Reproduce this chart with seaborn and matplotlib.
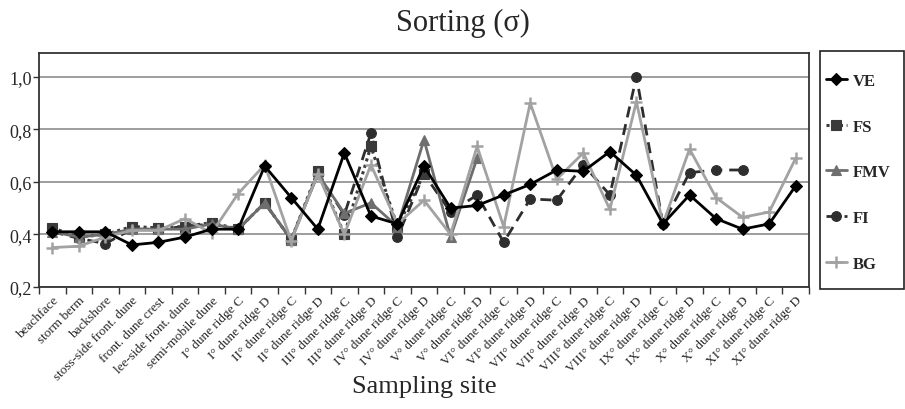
import numpy as np
import pandas as pd
import matplotlib
matplotlib.use("Agg")
import matplotlib.pyplot as plt
import matplotlib.patches as mpatches
import seaborn as sns
from matplotlib.ticker import FuncFormatter, FixedLocator

categories = ["beachface", "storm berm", "backshore", "stoss-side front. dune",
              "front. dune crest", "lee-side front. dune", "semi-mobile dune",
              "I° dune ridge C", "I° dune ridge D", "II° dune ridge C", "II° dune ridge D",
              "III° dune ridge C", "III° dune ridge D", "IV° dune ridge C", "IV° dune ridge D",
              "V° dune ridge C", "V° dune ridge D", "VI° dune ridge C", "VI° dune ridge D",
              "VII° dune ridge C", "VII° dune ridge D", "VIII° dune ridge C", "VIII° dune ridge D",
              "IX° dune ridge C", "IX° dune ridge D", "X° dune ridge C", "X° dune ridge D",
              "XI° dune ridge C", "XI° dune ridge D"]

nan = np.nan
VE = [0.41, 0.41, 0.41, 0.36, 0.37, 0.39, 0.42, 0.42, 0.66, 0.54, 0.42, 0.71, 0.47, 0.44,
      0.66, 0.50, 0.51, 0.55, 0.59, 0.645, 0.64, 0.715, 0.625, 0.44, 0.55, 0.46, 0.42, 0.44, 0.585]
FS = [0.425, 0.39, 0.40, 0.43, 0.425, 0.43, 0.445, 0.42, 0.52, 0.38, 0.64, 0.40, 0.735, 0.43,
      0.63] + [nan] * 14
FMV = [0.41, 0.39, 0.40, 0.42, 0.42, 0.42, 0.44, 0.42, 0.52, 0.38, 0.63, 0.48, 0.52, 0.43,
       0.76, 0.39, 0.69] + [nan] * 12
FI = [0.41, 0.385, 0.365, 0.42, 0.42, 0.43, 0.44, 0.42, 0.52, 0.38, 0.63, 0.475, 0.785, 0.39,
      0.63, 0.485, 0.55, 0.37, 0.535, 0.53, 0.665, 0.55, 1.0, 0.44, 0.635, 0.645, 0.645, nan, nan]
BG = [0.35, 0.355, 0.39, 0.415, 0.415, 0.46, 0.405, 0.555, 0.665, 0.375, 0.63, 0.40, 0.665,
      0.44, 0.53, 0.40, 0.735, 0.43, 0.90, 0.61, 0.71, 0.495, 0.905, 0.44, 0.725, 0.54, 0.465,
      0.485, 0.69]

series = {"VE": VE, "FS": FS, "FMV": FMV, "FI": FI, "BG": BG}
styles = {
    "VE": dict(color="#000000", marker="D", markersize=6.5, lw=2.0, dashes=None, mfc="#000000"),
    "FS": dict(color="#3a3a3a", marker="s", markersize=7, lw=2.2, dashes=(1, 1.2), mfc="#3a3a3a"),
    "FMV": dict(color="#6e6e6e", marker="^", markersize=7, lw=2.0, dashes=None, mfc="#6e6e6e"),
    "FI": dict(color="#2e2e2e", marker="o", markersize=7, lw=2.0, dashes=(4, 2.5), mfc="#2e2e2e"),
    "BG": dict(color="#a2a2a2", marker="+", markersize=8, lw=2.0, dashes=None, mfc="#a2a2a2"),
}

sns.set_theme(style="white")
plt.rcParams["font.family"] = ["Liberation Serif", "DejaVu Serif"]

fig = plt.figure(figsize=(9.05, 4.10), dpi=100)
ax = fig.add_axes([39 / 905, 1 - 288 / 410, (809 - 39) / 905, (288 - 54) / 410])

x = np.arange(len(categories))
order = ["FI", "FS", "FMV", "BG", "VE"]
handles = {}
for name in order:
    st = styles[name]
    df = pd.DataFrame({"x": x, "y": series[name]}).dropna()
    sns.lineplot(data=df, x="x", y="y", ax=ax, color=st["color"], lw=st["lw"],
                 marker=st["marker"], markersize=st["markersize"],
                 markerfacecolor=st["mfc"], markeredgecolor=st["mfc"],
                 markeredgewidth=1.8 if name == "BG" else 0.8, label=name,
                 zorder=3 if name != "VE" else 4, legend=False)
    line = ax.get_lines()[-1]
    if st["dashes"] is not None:
        line.set_dashes(st["dashes"])
    handles[name] = line

ax.set_xlim(-0.5, len(categories) - 0.5)
ax.set_ylim(0.2, 1.09)
ax.set_yticks([0.2, 0.4, 0.6, 0.8, 1.0])
ax.yaxis.set_major_formatter(FuncFormatter(lambda v, p: f"{v:.1f}".replace(".", ",")))
ax.yaxis.grid(True, color="#8c8c8c", lw=1.2)
ax.xaxis.grid(False)
ax.set_axisbelow(True)

ax.set_xticks(x)
ax.set_xticklabels(categories, rotation=45, ha="right", rotation_mode="anchor", fontsize=9.5)
ax.xaxis.set_minor_locator(FixedLocator(np.arange(-0.5, len(categories) + 0.5, 1.0)))
ax.tick_params(axis="x", which="major", length=0, pad=5)
ax.tick_params(axis="x", which="minor", length=5, width=1, color="#333333", direction="out",
               bottom=True)
ax.tick_params(axis="y", which="major", length=4, width=1, color="#333333", direction="out",
               left=True, labelsize=13, pad=1)
for sp in ax.spines.values():
    sp.set_color("#333333")
    sp.set_linewidth(1.3)
ax.set_xlabel("")
ax.set_ylabel("")

fig.text(463 / 905, 1 - 23 / 410, "Sorting (σ)", ha="center", va="center", fontsize=22)
fig.text(424 / 905, 1 - 387 / 410, "Sampling site", ha="center", va="center", fontsize=19)

# legend frame drawn separately, legend entries inside without frame
frame = mpatches.Rectangle((820 / 905, 1 - 290 / 410), 84 / 905, 238 / 410,
                           transform=fig.transFigure, fill=False, edgecolor="#222222",
                           linewidth=1.2)
fig.patches.append(frame)

leg_order = ["VE", "FS", "FMV", "FI", "BG"]
leg = fig.legend([handles[n] for n in leg_order], leg_order, loc="upper left",
                 bbox_to_anchor=(826 / 905, 1 - 74 / 410), frameon=False,
                 prop={"weight": "bold", "size": 12, "family": ["Liberation Serif"]},
                 labelspacing=1.78, handlelength=1.25, handletextpad=0.35, borderpad=0,
                 borderaxespad=0)

fig.savefig("out.png", dpi=100)
